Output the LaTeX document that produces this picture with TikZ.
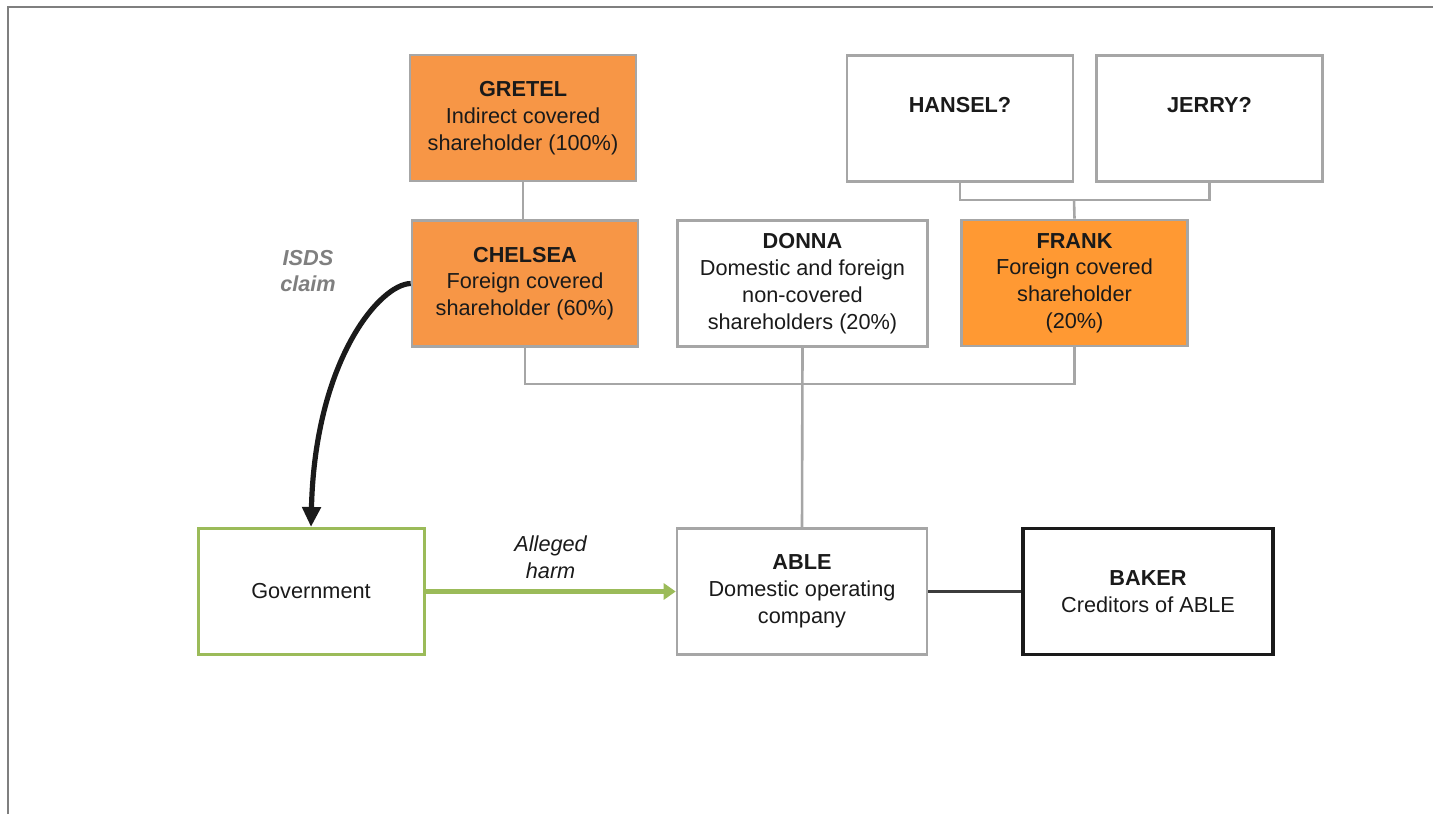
\documentclass[tikz,border=0pt]{standalone}
\usepackage{fontspec}
\setmainfont{Liberation Sans}
\usetikzlibrary{arrows.meta, calc}
\newcommand{\boxheight}{63pt}
\newcommand{\boxwidth}{113pt}
\newcommand{\wideboxwidth}{125pt}
\definecolor{naranjito}{RGB}{247,150,70}
\definecolor{naranjote}{RGB}{255,153,51}
\definecolor{grisito}{RGB}{166,166,166}
\definecolor{grisote}{RGB}{127,127,127}
\definecolor{verdecito}{RGB}{155,187,89}
\definecolor{negrito}{RGB}{26,26,26}
\tikzset{>=stealth,
  every node/.style={font=\fontsize{10.85}{13.4}\selectfont, text=negrito},
  caja/.style={draw=grisito, line width=1.3pt, minimum width=\boxwidth, minimum height=\boxheight, align=center, inner sep=2pt},
  cajaancha/.style={caja, minimum width=\wideboxwidth},
  enlace/.style={draw=grisito, line width=1.3pt}}

\begin{document}
\begin{tikzpicture}[x=0.5pt, y=-0.5pt]
  \useasboundingbox (0,0) rectangle (1433,814);
  \draw [grisote, line width=1.2pt] (8,814) -- (8,7) -- (1433,7);

  % shareholders
  \node [caja, fill=naranjito] (gretel) at (523,118) {\textbf{GRETEL}\\Indirect covered\\shareholder (100\%)};
  \node [caja, fill=naranjito] (chelsea) at (525,283.5) {\textbf{CHELSEA}\\Foreign covered\\shareholder (60\%)};
  \node [cajaancha] (donna) at (802.5,283.5) {\textbf{DONNA}\\Domestic and foreign\\non-covered\\shareholders (20\%)};
  \node [caja, fill=naranjote] (frank) at (1074.5,283) {\textbf{FRANK}\\Foreign covered\\shareholder\\(20\%)};
  \node [caja] (hansel) at (960,118.5) {\textbf{HANSEL?}\\~};
  \node [caja] (jerry) at (1209.5,118.5) {\textbf{JERRY?}\\~};

  % bottom row
  \node [caja, draw=verdecito, line width=1.5pt] (gov) at (311,591.5) {Government};
  \node [cajaancha] (able) at (802,591.5) {\textbf{ABLE}\\Domestic operating\\company};
  \node [cajaancha, draw=negrito, line width=1.6pt] (baker) at (1148,591.5) {\textbf{BAKER}\\Creditors of ABLE};

  \coordinate (hj) at (1074,200);
  \coordinate (bus) at (802,384);
  \draw [enlace] (gretel.south) -- (gretel |- chelsea.north);
  \draw [enlace] (hansel.south) |- (hj) -| (jerry.south);
  \draw [enlace] (hj) -- (frank.north);
  \draw [enlace] (chelsea.south) |- (bus) -| (frank.south);
  \draw [enlace] (donna.south) -- (able.north);
  \draw [negrito!85, line width=1.6pt] (able.east) -- (baker.west);

  \draw [verdecito, line width=2.4pt, -{Triangle[length=6pt, width=8pt]}] (gov.east) -- node[midway, above=2pt, align=center] {\itshape Alleged\\\itshape harm} (able.west);
  \draw [negrito, line width=2.6pt, -{Triangle[length=10pt, width=9pt]}] (chelsea.west) .. controls (380,284) and (315,360) .. (gov.north);
  \node [text=grisote, align=center, font=\fontsize{10.85}{13.25}\selectfont\bfseries\itshape] (isds) at (308,271) {ISDS\\claim};
\end{tikzpicture}
\end{document}
